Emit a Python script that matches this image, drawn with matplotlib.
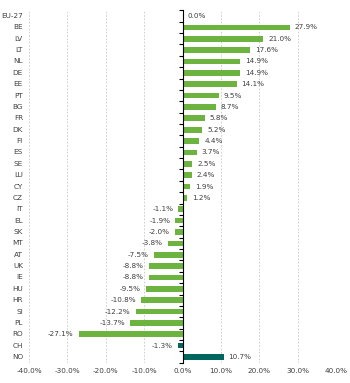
import matplotlib.pyplot as plt
from matplotlib.ticker import FixedLocator
import matplotlib.transforms as mtransforms

# categories, top to bottom
countries = ['EU-27', 'BE', 'LV', 'LT', 'NL', 'DE', 'EE', 'PT', 'BG', 'FR', 'DK',
             'FI', 'ES', 'SE', 'LU', 'CY', 'CZ', 'IT', 'EL', 'SK', 'MT', 'AT',
             'UK', 'IE', 'HU', 'HR', 'SI', 'PL', 'RO', 'CH', 'NO']
values = [0.0, 27.9, 21.0, 17.6, 14.9, 14.9, 14.1, 9.5, 8.7, 5.8, 5.2,
          4.4, 3.7, 2.5, 2.4, 1.9, 1.2, -1.1, -1.9, -2.0, -3.8, -7.5,
          -8.8, -8.8, -9.5, -10.8, -12.2, -13.7, -27.1, -1.3, 10.7]
non_eu = ['CH', 'NO']
xticks = [-40, -30, -20, -10, 0, 10, 20, 30, 40]

green = '#6db33f'
teal = '#00665e'
txt = '#404040'
fs = 5.2

fig = plt.figure(figsize=(3.5, 3.83), dpi=100)
ax = fig.add_axes([0.083, 0.053, 0.877, 0.92])

n = len(countries)
ypos = list(range(n))
colors = [teal if c in non_eu else green for c in countries]
ax.barh(ypos, values, height=0.5, color=colors, zorder=3)

ax.set_ylim(n - 0.5, -0.5)
ax.set_xlim(-40, 40)
ax.set_xticks(xticks)
ax.set_xticklabels(['%.1f%%' % v for v in xticks], fontsize=fs, color=txt)
ax.tick_params(axis='x', length=0, pad=4)

# axis at zero, ticks between the categories
ax.spines['left'].set_position(('data', 0))
ax.spines['left'].set_linewidth(0.8)
ax.spines['left'].set_zorder(4)
for s in ['top', 'right', 'bottom']:
    ax.spines[s].set_visible(False)
ax.set_yticks([])
ax.yaxis.set_minor_locator(FixedLocator([k + 0.5 for k in range(-1, n)]))
ax.tick_params(axis='y', which='minor', length=3, width=0.8, direction='out')

ax.grid(axis='x', color='#c8c8c8', linestyle=(0, (2, 2)), linewidth=0.6, zorder=0)

trans = mtransforms.blended_transform_factory(ax.transAxes, ax.transData)
for y, c in zip(ypos, countries):
    ax.text(-0.02, y, c, transform=trans, ha='right', va='center',
            fontsize=fs, color=txt)

for y, v in zip(ypos, values):
    if v >= 0:
        ax.text(v + 1.3, y, '%.1f%%' % v, ha='left', va='center',
                fontsize=fs, color=txt)
    else:
        ax.text(v - 1.3, y, '%.1f%%' % v, ha='right', va='center',
                fontsize=fs, color=txt)

fig.savefig('out.png', dpi=100)
